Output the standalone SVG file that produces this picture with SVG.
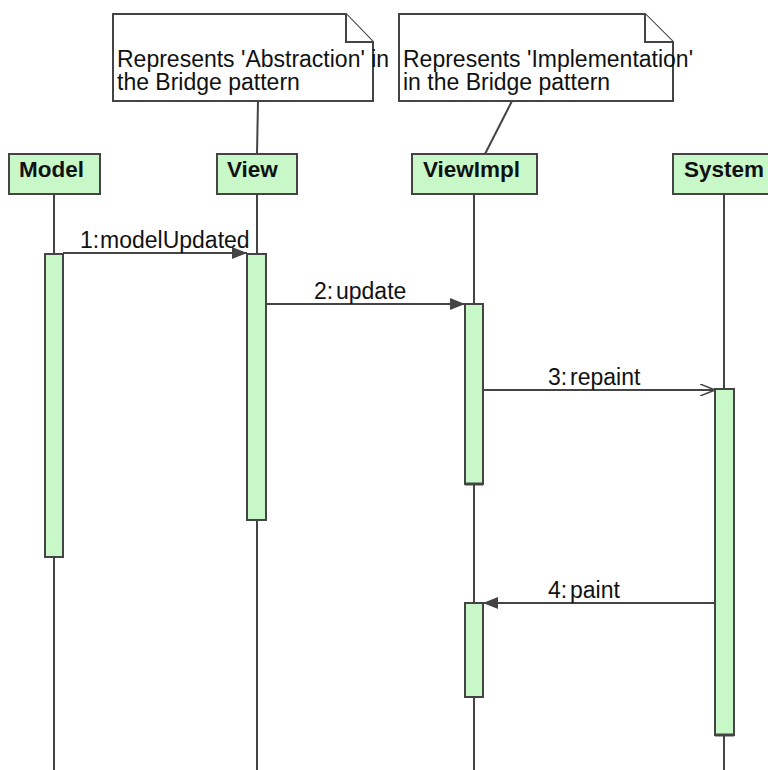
<svg xmlns="http://www.w3.org/2000/svg" width="768" height="770" viewBox="0 0 768 770">
<defs>
<style>
.ll{stroke:#444;stroke-width:2;fill:none}
.head{fill:#c8f8c8;stroke:#444;stroke-width:2}
.act{fill:#c8f8c8;stroke:#444;stroke-width:2}
.note{fill:#fff;stroke:#444;stroke-width:2}
.msg{stroke:#444;stroke-width:2;fill:none}
.t{font-family:"Liberation Sans",Arial,sans-serif;font-size:23px;fill:#111}
.b{font-family:"Liberation Sans",Arial,sans-serif;font-size:22.5px;font-weight:bold;fill:#111}
</style>
<marker id="fa" markerWidth="16" markerHeight="12" refX="15" refY="6" orient="auto" markerUnits="userSpaceOnUse">
<path d="M0,0 L15,6 L0,12 Z" fill="#444"/>
</marker>
<marker id="oa" markerWidth="16" markerHeight="12" refX="15" refY="6" orient="auto" markerUnits="userSpaceOnUse">
<path d="M0,0 L15,6 L0,12" fill="none" stroke="#444" stroke-width="1.5"/>
</marker>
</defs>
<rect width="768" height="770" fill="#fff"/>
<g id="lifelines">
<line class="ll" x1="54" y1="194" x2="54" y2="770"/>
<line class="ll" x1="257" y1="194" x2="257" y2="770"/>
<line class="ll" x1="474" y1="194" x2="474" y2="770"/>
<line class="ll" x1="724" y1="194" x2="724" y2="770"/>
</g>
<g id="connectors">
<line class="ll" x1="258" y1="101" x2="257" y2="154"/>
<line class="ll" x1="512" y1="101" x2="485" y2="154"/>
<line class="msg" x1="63" y1="253" x2="247" y2="253" marker-end="url(#fa)"/>
<line class="msg" x1="266" y1="304" x2="465" y2="304" marker-end="url(#fa)"/>
<line class="msg" x1="483" y1="390" x2="715" y2="390" marker-end="url(#oa)"/>
<line class="msg" x1="715" y1="603" x2="483" y2="603" marker-end="url(#fa)"/>
<text class="t" x="80" y="248">1:<tspan x="100"> </tspan><tspan x="100">modelUpdated</tspan></text>
<text class="t" x="314" y="299">2:<tspan x="336"> </tspan><tspan x="336">update</tspan></text>
<text class="t" x="548" y="385">3:<tspan x="570"> </tspan><tspan x="570">repaint</tspan></text>
<text class="t" x="548" y="598">4:<tspan x="570"> </tspan><tspan x="570">paint</tspan></text>
</g>
<g id="note1">
<path class="note" d="M113,14 L346,14 L373,42 L373,101 L113,101 Z"/>
<path class="note" d="M346,14 L346,42 L373,42"/>
<text class="t" x="117" y="67">Represents 'Abstraction' in</text>
<text class="t" x="117" y="90">the Bridge pattern</text>
</g>
<g id="note2">
<path class="note" d="M399,14 L645,14 L673,42 L673,101 L399,101 Z"/>
<path class="note" d="M645,14 L645,42 L673,42"/>
<text class="t" x="403" y="67">Represents 'Implementation'</text>
<text class="t" x="403" y="90">in the Bridge pattern</text>
</g>
<g id="Model">
<rect class="head" x="9" y="154" width="91" height="40"/>
<text class="b" x="19" y="177">Model</text>
<rect class="act" x="45" y="254" width="18" height="303"/>
</g>
<g id="View">
<rect class="head" x="217" y="154" width="80" height="40"/>
<text class="b" x="227" y="177">View</text>
<rect class="act" x="247" y="254" width="19" height="266"/>
</g>
<g id="ViewImpl">
<rect class="head" x="412" y="154" width="125" height="40"/>
<text class="b" x="423" y="177">ViewImpl</text>
<rect class="act" x="465" y="304" width="18" height="180"/>
<line x1="465" y1="484" x2="483" y2="484" stroke="#444" stroke-width="3"/>
<rect class="act" x="465" y="603" width="18" height="94"/>
</g>
<g id="System">
<rect class="head" x="673" y="154" width="100" height="40"/>
<text class="b" x="684" y="177">System</text>
<rect class="act" x="715" y="389" width="19" height="346"/>
<line x1="715" y1="735" x2="734" y2="735" stroke="#444" stroke-width="3"/>
</g>
</svg>
